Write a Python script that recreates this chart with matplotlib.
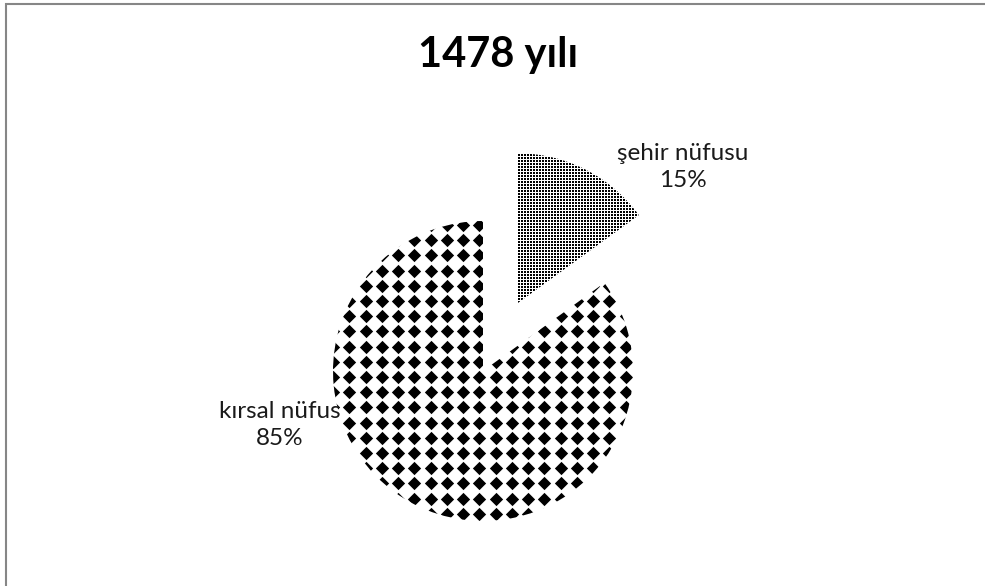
import numpy as np
import matplotlib
matplotlib.use('Agg')
import matplotlib.pyplot as plt
from matplotlib.patches import Rectangle

# data
labels = ['şehir nüfusu', 'kırsal nüfus']
values = [15, 85]
title = '1478 yılı'

W, H = 985, 586
plt.rcParams['font.family'] = ['Lato', 'DejaVu Sans']

fig = plt.figure(figsize=(W / 100, H / 100), dpi=100)
ax = fig.add_axes([0, 0, 1, 1])

# chart area border (only top/left visible)
ax.add_patch(Rectangle((6, -20), W + 40, H - 4 + 20, fill=False,
                       edgecolor='#868686', linewidth=1.5))

R = 150
cx, cy = 483, H - 371
wedges, _ = ax.pie(values, radius=R, center=(cx, cy), startangle=90,
                   counterclock=False, explode=[76, 0],
                   colors=['white', 'white'], frame=True,
                   wedgeprops=dict(linewidth=0))
ax.set_xlim(0, W)
ax.set_ylim(0, H)
ax.set_aspect('equal')
ax.axis('off')

# fine dot pattern for şehir slice
xs = np.arange(500.5, 660, 3.0)
ys = np.arange(H - 320 + 0.5, H - 130, 3.0)
gx, gy = np.meshgrid(xs, ys)
dots = ax.scatter(gx.ravel(), gy.ravel(), s=0.55, marker='s', c='black',
                  linewidths=0, antialiased=False, zorder=3)
dots.set_clip_path(wedges[0])

# diamond pattern for kırsal slice
xs = np.arange(479.3 - 16.25 * 10, 660, 16.25)
ys = H - np.arange(225 - 15.2, 540, 15.2)
gx, gy = np.meshgrid(xs, ys)
dia = ax.scatter(gx.ravel(), gy.ravel(), s=46, marker='D', c='black',
                 linewidths=0, zorder=3)
dia.set_clip_path(wedges[1])

ax.text(683, H - 167, f'{labels[0]}\n{values[0]}%', ha='center', va='center',
        fontsize=17.5, linespacing=1.3, color='#1a1a1a', zorder=4)
ax.text(280, H - 425, f'{labels[1]}\n{values[1]}%', ha='center', va='center',
        fontsize=17.5, linespacing=1.3, color='#1a1a1a', zorder=4)

ax.text(498, H - 67, title, ha='center', va='baseline', fontsize=30,
        fontweight='bold', color='black')

fig.savefig('out.png', dpi=100)
